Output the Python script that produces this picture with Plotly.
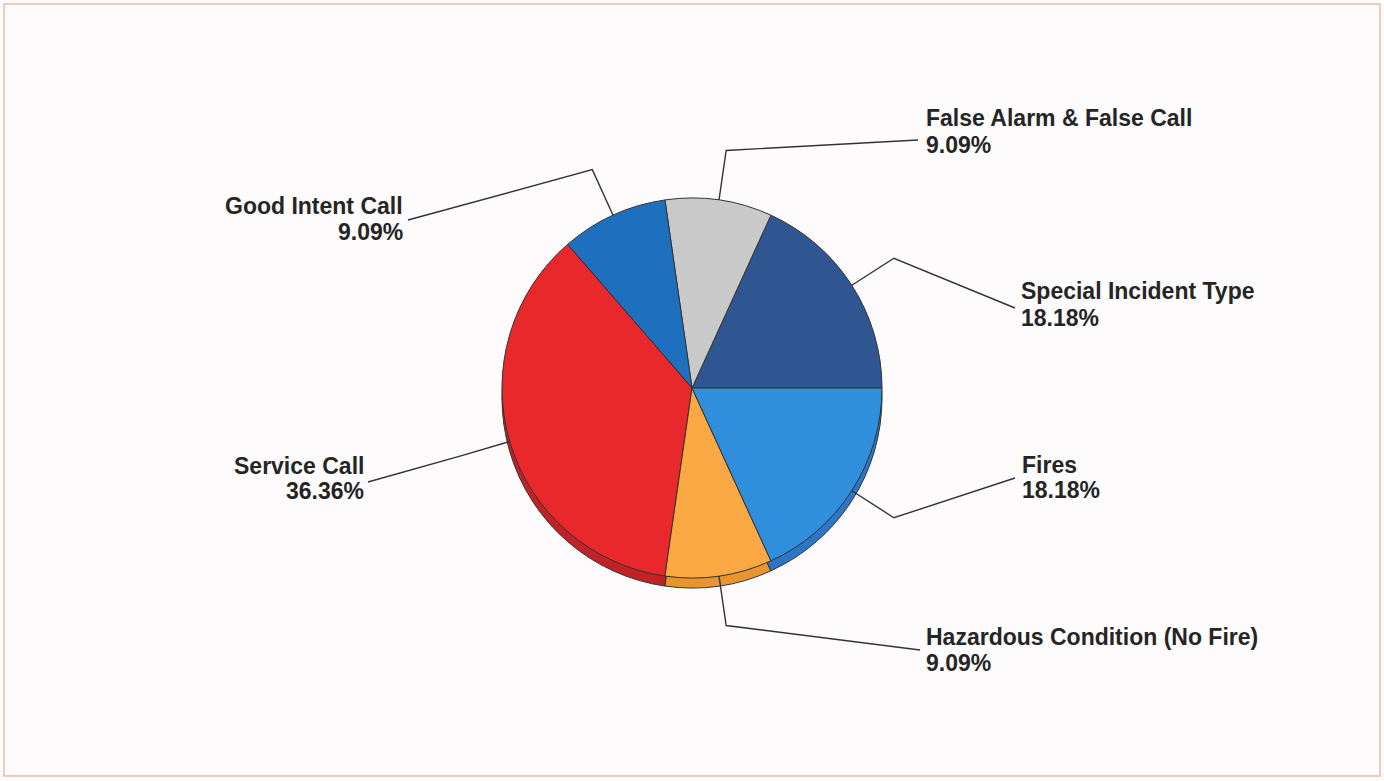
import math
import plotly.graph_objects as go

# ---- data ----
categories = ["Special Incident Type", "False Alarm & False Call", "Good Intent Call",
              "Service Call", "Hazardous Condition (No Fire)", "Fires"]
counts = [2, 1, 1, 4, 1, 2]
top_colors = ["#2f5690", "#c9c9c9", "#1f6fbf", "#e8282a", "#f9a844", "#2f8fdc"]
side_colors = ["#244676", "#a8a8a8", "#1a5ea3", "#c02225", "#e8952f", "#2c76c8"]

# ---- layout geometry (pixels) ----
W, H = 1384, 781
CX, CY, R = 692, 388, 190
DEPTH = 10
ELBOW = 50
FONT = dict(family="Liberation Sans, Arial, sans-serif", size=23, color="#252525")
# label text positions (x, y of first line, y of second line), side, and line end point
label_pos = {
    "Special Incident Type": dict(x=1020, y1=291, y2=318, side="left", end=(1015, 308)),
    "False Alarm & False Call": dict(x=925, y1=118, y2=145, side="left", end=(918, 140)),
    "Good Intent Call": dict(x=404, y1=206, y2=232, side="right", end=(408, 220)),
    "Service Call": dict(x=365, y1=466, y2=491, side="right", end=(368, 482)),
    "Hazardous Condition (No Fire)": dict(x=925, y1=637, y2=663, side="left", end=(920, 650)),
    "Fires": dict(x=1021, y1=465, y2=490, side="left", end=(1015, 478)),
}


def px(x):
    return x / W


def py(y):
    return 1 - y / H


# plotly pies start at the top and go clockwise; start the first slice at 3 o'clock (ccw)
rot = 90 - 360 * counts[0] / sum(counts)

fig = go.Figure()

# side (depth) pie, shifted down
fig.add_trace(go.Pie(
    labels=categories, values=counts, sort=False, direction="counterclockwise",
    rotation=rot, textinfo="none", hoverinfo="skip", showlegend=False,
    marker=dict(colors=side_colors, line=dict(color="#333333", width=1)),
    domain=dict(x=[px(CX - R), px(CX + R)], y=[py(CY + DEPTH + R), py(CY + DEPTH - R)]),
))
# top pie
fig.add_trace(go.Pie(
    labels=categories, values=counts, sort=False, direction="counterclockwise",
    rotation=rot, textinfo="none", showlegend=False,
    hovertemplate="%{label}<br>%{percent}<extra></extra>",
    marker=dict(colors=top_colors, line=dict(color="#333333", width=1)),
    domain=dict(x=[px(CX - R), px(CX + R)], y=[py(CY + R), py(CY - R)]),
))

total = sum(counts)
shapes = []
annotations = []
cum = 0
for cat, v in zip(categories, counts):
    mid = (cum + v / 2) / total * 2 * math.pi
    cum += v
    cs, sn = math.cos(mid), math.sin(mid)
    sx, sy = CX + R * cs, CY - R * sn
    ex, ey = CX + (R + ELBOW) * cs, CY - (R + ELBOW) * sn
    lp = label_pos[cat]
    tx, ty = lp["end"]
    path = f"M {px(sx)},{py(sy)} L {px(ex)},{py(ey)} L {px(tx)},{py(ty)}"
    shapes.append(dict(type="path", path=path, xref="paper", yref="paper",
                       line=dict(color="#333333", width=1.4)))
    pct = v / total * 100
    anchor = "left" if lp["side"] == "left" else "right"
    for txt, yy in ((cat, lp["y1"]), (f"{pct:.2f}%", lp["y2"])):
        annotations.append(dict(
            x=px(lp["x"]), y=py(yy), xref="paper", yref="paper",
            xanchor=anchor, yanchor="middle", align=anchor,
            text=f"<b>{txt}</b>", showarrow=False, borderpad=0,
            font=FONT,
        ))

# outer border
shapes.append(dict(type="rect", xref="paper", yref="paper",
                   x0=px(4), x1=px(1380), y0=py(776), y1=py(4),
                   line=dict(color="#e6bfa6", width=1.5), fillcolor="rgba(0,0,0,0)", layer="below"))

fig.update_layout(
    width=W, height=H, margin=dict(l=0, r=0, t=0, b=0),
    paper_bgcolor="#fdfbfb", plot_bgcolor="#fdfbfb",
    shapes=shapes, annotations=annotations, showlegend=False,
)

fig.write_html("out.html", config={"displayModeBar": False},
               post_script="document.body.style.margin='0px';document.body.style.overflow='hidden';")
